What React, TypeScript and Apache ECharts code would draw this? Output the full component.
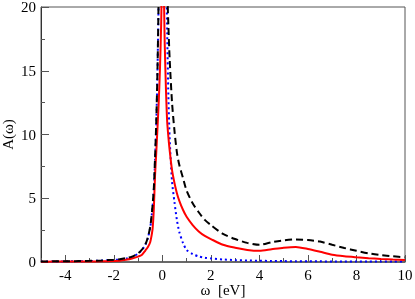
import React, { useEffect, useRef } from "react";
import * as echarts from "echarts";

const omega = [
  -5, -4.5, -4, -3.5, -3, -2.5, -2, -1.75, -1.5, -1.25, -1, -0.85, -0.7, -0.6, -0.5, -0.45, -0.4, -0.35, -0.3, -0.25,
  -0.2, -0.15, -0.1, -0.05, 0, 0.05, 0.1, 0.15, 0.2, 0.25, 0.3, 0.4, 0.5, 0.6, 0.7, 0.85, 1, 1.25, 1.5, 1.75, 2,
  2.5, 3, 3.5, 4, 4.5, 5, 5.5, 6, 6.5, 7, 7.5, 8, 8.5, 9, 9.5, 10,
];

const aSolid = [
  0.02, 0.03, 0.03, 0.03, 0.04, 0.05, 0.08, 0.1, 0.17, 0.27, 0.42, 0.55, 0.9, 1.15, 1.55, 2.0, 2.64, 4.2, 6.8, 8.6,
  10.5, 12.5, 15, 18.5, 23, 22, 17, 13.5, 11, 9.8, 8.8, 7.2, 6.2, 5.4, 4.8, 4.1, 3.55, 2.9, 2.4, 2.05, 1.8,
  1.35, 1.12, 0.95, 0.88, 1.0, 1.12, 1.18, 1.02, 0.8, 0.57, 0.45, 0.37, 0.3, 0.24, 0.19, 0.15,
];

const aDashed = [
  0.04, 0.05, 0.06, 0.07, 0.09, 0.12, 0.18, 0.22, 0.3, 0.42, 0.68, 0.95, 1.38, 1.9, 2.75, 3.5, 4.5, 5.8, 8.2, 11,
  15, 21, 28, 34, 37, 35, 30, 25, 21.5, 18.5, 16, 12.5, 10.3, 8.6, 7.6, 6.6, 5.6, 4.6, 3.9, 3.3, 2.9,
  2.2, 1.8, 1.5, 1.35, 1.55, 1.7, 1.77, 1.73, 1.6, 1.35, 1.1, 0.88, 0.68, 0.55, 0.45, 0.37,
];

const aDotted = [
  0.03, 0.04, 0.05, 0.06, 0.08, 0.11, 0.16, 0.2, 0.27, 0.4, 0.65, 0.92, 1.35, 1.85, 2.7, 3.4, 4.4, 5.7, 8.0, 10.8,
  15, 21, 29, 38, 42, 38, 31, 24, 18, 13, 9.8, 6.3, 4.7, 3.3, 2.35, 1.5, 0.95, 0.62, 0.44, 0.34, 0.28,
  0.2, 0.15, 0.12, 0.1, 0.08, 0.07, 0.06, 0.05, 0.05, 0.04, 0.04, 0.04, 0.03, 0.03, 0.03, 0.03,
];

const xMajorTicks = [-4, -2, 0, 2, 4, 6, 8, 10];
const xMinorTicks = [-5, -3, -1, 1, 3, 5, 7, 9];

const FONT = "Liberation Serif";

function pairs(ys: number[]) {
  return omega.map((x, i) => [x, ys[i]]);
}

function makeOption() {
  const ls = { fontFamily: FONT, fontSize: 15, color: "#000" };
  return {
    animation: false,
    grid: {
      left: 41,
      top: 7,
      right: 10,
      bottom: 37,
      show: true,
      borderColor: "#555",
      borderWidth: 1,
      containLabel: false,
      outerBoundsMode: "none",
    },
    xAxis: [
      {
        type: "value",
        min: -5,
        max: 10,
        axisLine: { show: true, onZero: false, lineStyle: { color: "#555", width: 1.5 } },
        axisTick: { inside: true, length: 7, customValues: xMajorTicks, lineStyle: { color: "#555" } },
        axisLabel: { ...ls, margin: 5, customValues: xMajorTicks },
        splitLine: { show: false },
        name: "ω  [eV]",
        nameLocation: "middle",
        nameGap: 20,
        nameMoveOverlap: false,
        nameTextStyle: { ...ls },
      },
      {
        type: "value",
        min: -5,
        max: 10,
        position: "bottom",
        axisLine: { show: false, onZero: false },
        axisTick: { inside: true, length: 4, customValues: xMinorTicks, lineStyle: { color: "#555" } },
        axisLabel: { show: false },
        splitLine: { show: false },
      },
    ],
    yAxis: {
      type: "value",
      min: 0,
      max: 20,
      interval: 5,
      axisLine: { show: true, onZero: false, lineStyle: { color: "#333" } },
      axisTick: { inside: true, length: 8, lineStyle: { color: "#555" } },
      minorTick: { show: true, splitNumber: 2, length: 4, lineStyle: { color: "#555" } },
      axisLabel: { ...ls, margin: 5 },
      splitLine: { show: false },
      name: "A(ω)",
      nameLocation: "middle",
      nameGap: 26,
      nameMoveOverlap: false,
      nameTextStyle: { ...ls },
    },
    series: [
      {
        type: "line",
        data: pairs(aDotted),
        showSymbol: false,
        smooth: 0.25,
        lineStyle: { color: "#0000ff", width: 2, type: [2, 3] },
      },
      {
        type: "line",
        data: pairs(aSolid),
        showSymbol: false,
        smooth: 0.25,
        lineStyle: { color: "#ff0000", width: 2 },
      },
      {
        type: "line",
        data: pairs(aDashed),
        showSymbol: false,
        smooth: 0.25,
        lineStyle: { color: "#000000", width: 2, type: [7, 4] },
      },
    ],
  };
}

export default function App() {
  const ref = useRef<HTMLDivElement>(null);
  useEffect(() => {
    if (!ref.current) return;
    const chart = echarts.init(ref.current, undefined, { renderer: "svg" });
    chart.setOption(makeOption());
    return () => chart.dispose();
  }, []);
  return <div ref={ref} style={{ position: "fixed", left: 0, top: 0, width: 415, height: 299 }} />;
}
